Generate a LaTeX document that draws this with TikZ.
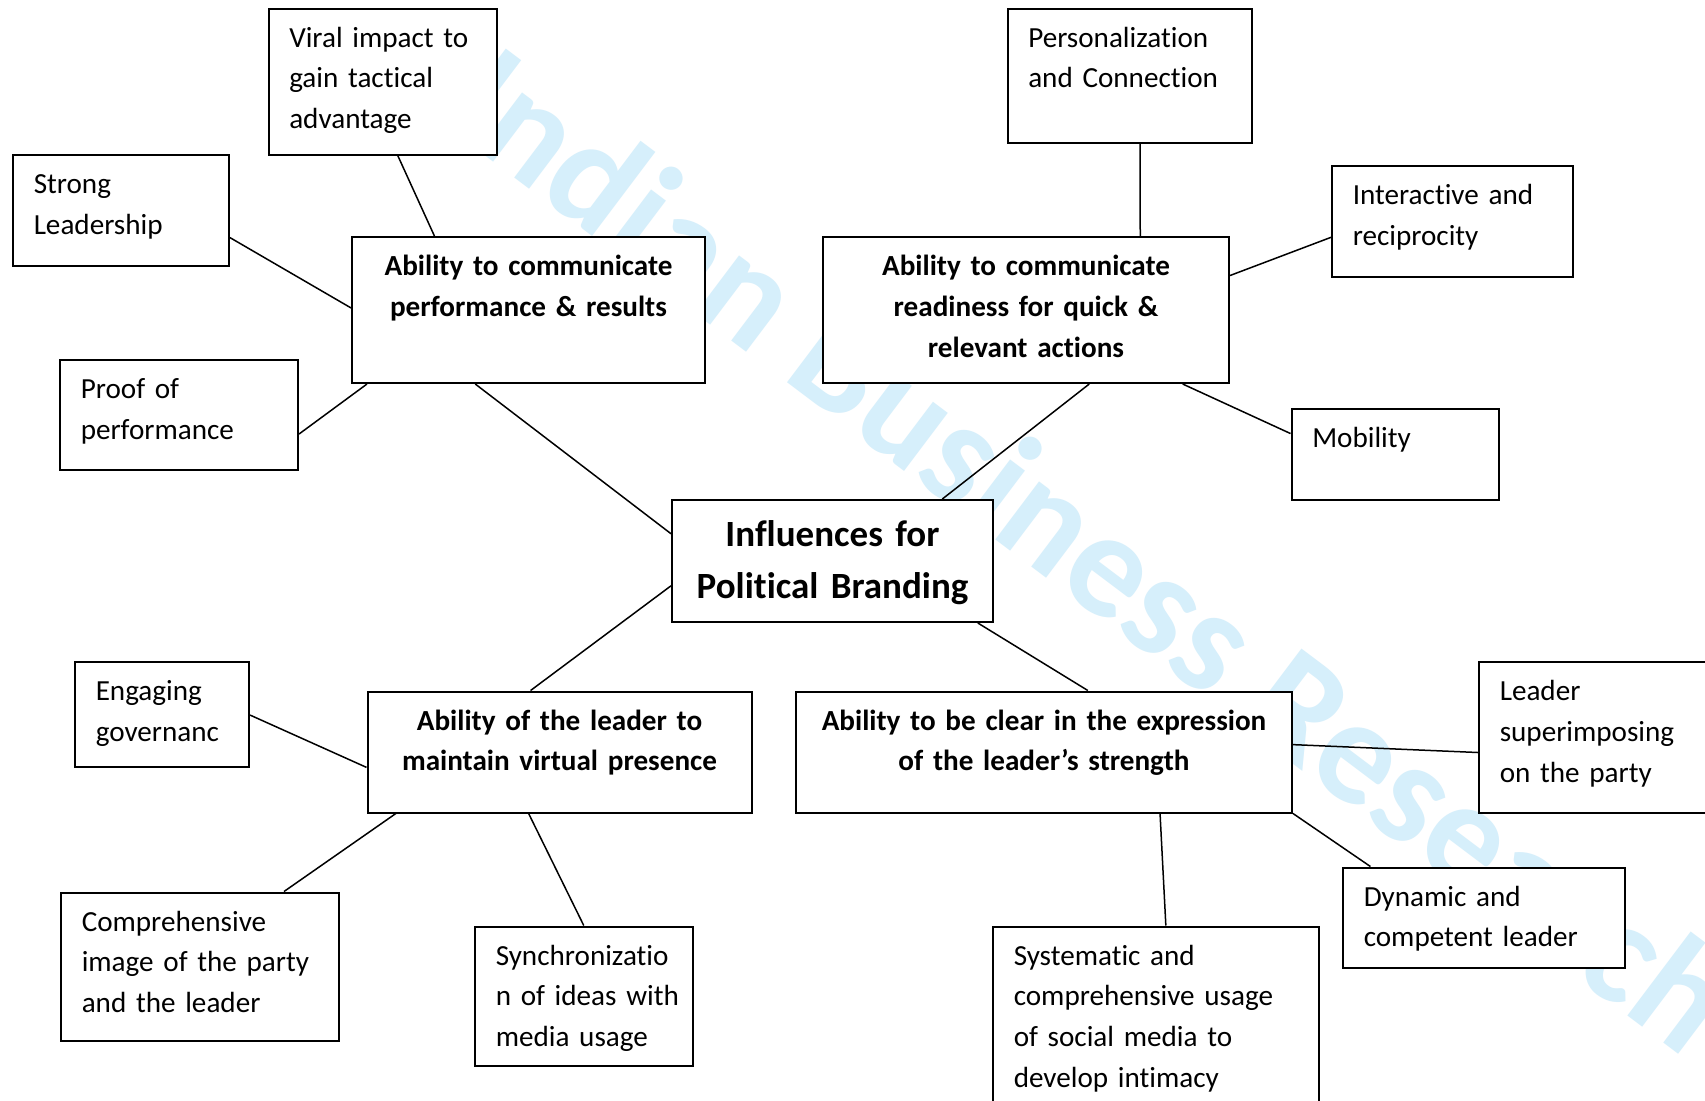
\documentclass[tikz,border=0pt]{standalone}
\usepackage{fontspec}
\setmainfont{Carlito}[Ligatures=NoCommon]
\usetikzlibrary{calc}
\definecolor{wmblue}{HTML}{D6EFFB}
\newcommand\wordgap{\spaceskip=.226em plus .1em minus .05em\relax}

\begin{document}
\begin{tikzpicture}[
  x=0.4pt,y=-0.4pt,
  link/.style={draw=black,line width=0.6pt},
  leaf/.style={draw=black,fill=white,line width=0.8pt,anchor=north west,
               align=left,inner xsep=8.3pt,inner ysep=0pt,text height=15.4pt,
               font=\fontsize{11.66pt}{16.3pt}\selectfont\wordgap},
  ability/.style={draw=black,fill=white,line width=0.8pt,anchor=north west,
                  align=center,inner xsep=4pt,inner ysep=0pt,text height=15.4pt,
                  font=\fontsize{11.66pt}{16.3pt}\selectfont\bfseries\wordgap},
  core/.style={draw=black,fill=white,line width=0.8pt,anchor=north west,
               align=center,inner xsep=4pt,inner ysep=0pt,text height=18.4pt,
               font=\fontsize{14.8pt}{20.8pt}\selectfont\bfseries\wordgap},
  watermark/.style={anchor=base,rotate=-37,inner sep=0pt,text=wmblue,
                    font=\fontsize{60pt}{60pt}\selectfont\bfseries\wordgap}
]
\useasboundingbox (0,0) rectangle (1705,1100);
\clip (0,0) rectangle (1705,1100);
\fill[white] (0,0) rectangle (1705,1100);
\node[watermark] (wm) at (1062,590) {Indian Business Research};

\node[core,text width=120.4pt,text depth=30.4pt] (hub) at (671,499)
  {Influences for\\Political Branding};

\node[ability,text width=133.2pt,text depth=43pt] (perf) at (351,236)
  {Ability to communicate\\performance \& results};
\node[ability,text width=154.4pt,text depth=43pt] (ready) at (822,236)
  {Ability to communicate\\readiness for quick \&\\relevant actions};
\node[ability,text width=145.6pt,text depth=33pt] (virtual) at (366.5,690.5)
  {Ability of the leader to\\maintain virtual presence};
\node[ability,text width=190.4pt,text depth=33pt] (clear) at (795,690.5)
  {Ability to be clear in the expression\\of the leader’s strength};

\node[leaf,text width=74.8pt,text depth=43pt] (viral) at (267.5,7.5)
  {Viral impact to\\gain tactical\\advantage};
\node[leaf,text width=69.8pt,text depth=29pt] (strong) at (12,154)
  {Strong\\Leadership};
\node[leaf,text width=78.6pt,text depth=28.6pt] (proof) at (59,359)
  {Proof of\\performance};
\node[leaf,text width=81pt,text depth=38.2pt] (person) at (1006.5,7.5)
  {Personalization\\and Connection};
\node[leaf,text width=79.8pt,text depth=29pt] (interact) at (1331,165)
  {Interactive and\\reciprocity};
\node[leaf,text width=66.2pt,text depth=21pt] (mobility) at (1290.5,407.5)
  {Mobility};
\node[leaf,text width=53pt,text depth=26.6pt] (engaging) at (74,661)
  {Engaging\\governanc};
\node[leaf,text width=94.6pt,text depth=43.8pt] (comp) at (60,891.5)
  {Comprehensive\\image of the party\\and the leader};
\node[leaf,text width=70.4pt,text depth=40.4pt] (sync) at (474,925.5)
  {Synchronizatio\\\mbox{n of ideas with}\\media usage};
\node[leaf,text width=113.8pt,text depth=64.6pt] (system) at (992,925.5)
  {Systematic and\\comprehensive usage\\of social media to\\develop intimacy};
\node[leaf,text width=87.4pt,text depth=44.8pt] (leader) at (1478,661)
  {Leader\\superimposing\\on the party};
\node[leaf,text width=96.2pt,text depth=24.8pt] (dynamic) at (1342,866.5)
  {Dynamic and\\competent leader};

\draw[link] ($(viral.south west)!.565!(viral.south east)$) -- ($(perf.north west)!.235!(perf.north east)$);
\draw[link] ($(strong.north east)!.74!(strong.south east)$) -- ($(perf.north west)!.486!(perf.south west)$);
\draw[link] ($(proof.north east)!.67!(proof.south east)$) -- ($(perf.south west)!.045!(perf.south east)$);
\draw[link] ($(perf.south west)!.35!(perf.south east)$) -- ($(hub.north west)!.28!(hub.south west)$);
\draw[link] ($(person.south west)!.543!(person.south east)$) -- ($(ready.north west)!.78!(ready.north east)$);
\draw[link] ($(interact.north west)!.64!(interact.south west)$) -- ($(ready.north east)!.267!(ready.south east)$);
\draw[link] ($(mobility.north west)!.28!(mobility.south west)$) -- ($(ready.south west)!.884!(ready.south east)$);
\draw[link] ($(ready.south west)!.655!(ready.south east)$) -- ($(hub.north west)!.84!(hub.north east)$);
\draw[link] ($(hub.north west)!.70!(hub.south west)$) -- ($(virtual.north west)!.425!(virtual.north east)$);
\draw[link] ($(hub.south west)!.95!(hub.south east)$) -- ($(clear.north west)!.588!(clear.north east)$);
\draw[link] ($(engaging.north east)!.505!(engaging.south east)$) -- ($(virtual.north west)!.625!(virtual.south west)$);
\draw[link] ($(virtual.south west)!.076!(virtual.south east)$) -- ($(comp.north west)!.80!(comp.north east)$);
\draw[link] ($(virtual.south west)!.42!(virtual.south east)$) -- ($(sync.north west)!.50!(sync.north east)$);
\draw[link] ($(clear.north east)!.44!(clear.south east)$) -- ($(leader.north west)!.60!(leader.south west)$);
\draw[link] (clear.south east) -- ($(dynamic.north west)!.10!(dynamic.north east)$);
\draw[link] ($(clear.south west)!.733!(clear.south east)$) -- ($(system.north west)!.53!(system.north east)$);
\end{tikzpicture}
\end{document}
